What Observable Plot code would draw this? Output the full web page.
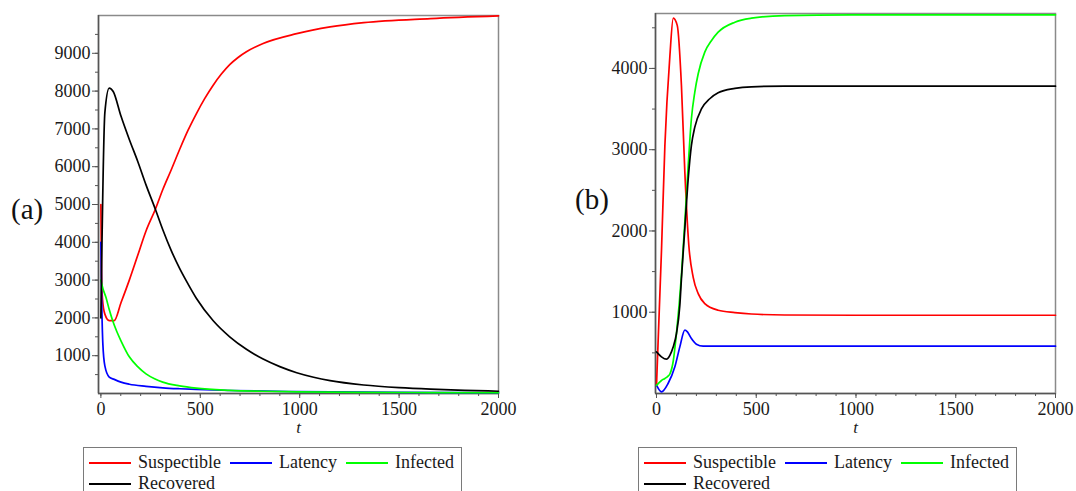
<!DOCTYPE html>
<html>
<head>
<meta charset="utf-8">
<script src="https://cdn.jsdelivr.net/npm/d3@7"></script>
<script src="https://cdn.jsdelivr.net/npm/@observablehq/plot@0.6"></script>
<style>
  body { margin: 0; background: #fff; width: 1076px; height: 491px; overflow: hidden; position: relative;
         font-family: 'Liberation Serif', serif; }
  .panel { position: absolute; top: 0; }
  .plabel { position: absolute; font-family: 'Liberation Serif', serif; font-size: 29px; line-height: 1; color: #111; }
  .legend { position: absolute; top: 447px; height: 60px; width: 379px; border: 1.5px solid #7a7a7a;
            box-sizing: border-box; font-family: 'Liberation Serif', serif; font-size: 18px; color: #1a1a1a; }
  .row { position: absolute; left: 5px; height: 21px; display: flex; align-items: center; white-space: nowrap; }
  .sw { display: inline-block; width: 42px; height: 2px; margin-right: 7px; }
  .lt { margin-right: 9px; }
</style>
</head>
<body>
<div id="pa" class="panel" style="left:0px"></div>
<div id="pb" class="panel" style="left:557px"></div>
<div class="plabel" style="left:11px;top:195px">(a)</div>
<div class="plabel" style="left:575px;top:185px">(b)</div>
<div id="lega" class="legend" style="left:83px"></div>
<div id="legb" class="legend" style="left:638px"></div>
<script>
// ---------- Panel (a) data ----------
const tSuspA = [0, 3, 8, 20, 42, 67, 101, 143, 185, 227, 274, 311, 354, 396, 438, 480, 522, 564, 606, 648, 690, 732, 816, 985, 1153, 1322, 1658, 2000];
const suspA  = [5000, 3200, 2500, 2100, 1930, 1930, 2400, 3000, 3650, 4300, 4875, 5390, 5920, 6455, 6960, 7400, 7800, 8150, 8450, 8700, 8890, 9040, 9260, 9519, 9697, 9812, 9919, 9990];

const tLatA = [0, 4, 10, 20, 42, 67, 101, 143, 227, 311, 396, 480, 648, 985, 1500, 2000];
const latA  = [4000, 2500, 1300, 730, 435, 373, 300, 245, 190, 150, 125, 107, 80, 50, 30, 20];

const tInfA = [0, 10, 25, 42, 59, 80, 101, 143, 185, 227, 270, 311, 396, 480, 648, 816, 985, 1300, 1650, 2000];
const infA  = [3000, 2780, 2550, 2220, 1930, 1640, 1395, 970, 710, 520, 390, 300, 200, 140, 85, 60, 45, 32, 25, 20];

const tRecA = [0, 20, 42, 62, 101, 143, 185, 227, 274, 311, 354, 396, 429, 480, 564, 648, 732, 816, 900, 985, 1070, 1153, 1322, 1500, 1658, 1830, 2000];
const recA  = [2000, 7430, 8080, 7990, 7340, 6720, 6145, 5520, 4875, 4340, 3780, 3310, 2985, 2520, 1930, 1500, 1170, 910, 710, 550, 430, 340, 225, 155, 115, 85, 60];

// ---------- Panel (b) data ----------
const tSuspB = [0, 25, 42, 67, 84, 104, 125, 142, 162, 184, 209, 242, 309, 393, 476, 643, 1000, 2000];
const suspB  = [100, 1760, 3050, 4150, 4620, 4530, 3790, 2725, 1824, 1430, 1229, 1106, 1025, 996, 978, 966, 963, 963];

const tLatB = [0, 25, 58, 92, 117, 142, 155, 175, 200, 234, 300, 2000];
const latB  = [102, 20, 123, 328, 574, 779, 758, 676, 607, 582, 582, 582];

const tInfB = [0, 25, 42, 58, 67, 84, 100, 125, 142, 159, 175, 192, 209, 242, 276, 309, 393, 476, 643, 977, 2000];
const infB  = [100, 160, 185, 215, 240, 400, 738, 1455, 2110, 2807, 3381, 3709, 3934, 4200, 4344, 4446, 4569, 4618, 4651, 4659, 4660];

const tRecB = [0, 25, 50, 67, 84, 100, 117, 125, 142, 159, 175, 192, 226, 267, 309, 393, 476, 643, 2000];
const recB  = [512, 451, 422, 470, 574, 738, 1086, 1414, 2028, 2643, 3053, 3278, 3504, 3627, 3700, 3754, 3774, 3782, 3782];

// ---------- Ticks & labels ----------
const seriesNames = ["Suspectible", "Latency", "Infected", "Recovered"];
const seriesColors = ["#ff0000", "#0000ff", "#00ff00", "#000000"];
const xTicks = [0, 500, 1000, 1500, 2000];
const xMinor = d3.range(0, 2001, 100);
const yTicksA = [1000, 2000, 3000, 4000, 5000, 6000, 7000, 8000, 9000];
const yMinorA = d3.range(500, 10000, 500);
const yTicksB = [1000, 2000, 3000, 4000];
const yMinorB = d3.range(500, 4700, 500);
const xLabel = "t";

const FONT = "'Liberation Serif', serif";
function zip(ts, vs) { return ts.map((t, i) => ({t, v: vs[i]})); }

function panel(series, xDomain, yDomain, yTicks, yMinor, marginTop) {
  return Plot.plot({
    width: 512, height: 440,
    marginLeft: 98, marginRight: 14, marginTop, marginBottom: 47,
    style: "font-family: 'Liberation Serif', serif; font-size: 18px; color: #1a1a1a; background: transparent; overflow: visible;",
    x: {domain: xDomain},
    y: {domain: yDomain},
    marks: [
      Plot.frame({stroke: "#8a8a8a", strokeWidth: 1.5}),
      Plot.axisY({ticks: yMinor, tickSize: 3, tickFormat: () => "", label: null, stroke: "#555"}),
      Plot.axisY({ticks: yTicks, tickSize: 6, tickPadding: 2, label: null, stroke: "#555", fontSize: 18, fontFamily: FONT, tickFormat: d => String(d)}),
      Plot.axisX({ticks: xMinor, tickSize: 3, tickFormat: () => "", label: null, stroke: "#555"}),
      Plot.axisX({ticks: xTicks, tickSize: 5, tickPadding: 4, label: null, stroke: "#555", fontSize: 18, fontFamily: FONT, tickFormat: d => String(d)}),
      Plot.ruleX([xDomain[0]], {stroke: "#555", strokeWidth: 1.5}),
      Plot.ruleY([yDomain[0]], {stroke: "#555", strokeWidth: 1.5}),
      ...series.map((s, i) => Plot.line(s, {x: "t", y: "v", stroke: seriesColors[i], strokeWidth: 1.7, curve: "monotone-x"})),
      Plot.text([xLabel], {frameAnchor: "bottom", dy: 39, text: d => d, fontStyle: "italic", fontSize: 17, fontFamily: FONT, fill: "#1a1a1a"})
    ]
  });
}

document.getElementById("pa").append(panel(
  [zip(tSuspA, suspA), zip(tLatA, latA), zip(tInfA, infA), zip(tRecA, recA)],
  [-12, 2000], [0, 10000], yTicksA, yMinorA, 15));
document.getElementById("pb").append(panel(
  [zip(tSuspB, suspB), zip(tLatB, latB), zip(tInfB, infB), zip(tRecB, recB)],
  [-5, 2000], [0, 4676], yTicksB, yMinorB, 13));

function legend(el) {
  const rows = [[0, 1, 2], [3]];
  rows.forEach((r, ri) => {
    const row = document.createElement("div");
    row.className = "row";
    row.style.top = (ri === 0 ? 4 : 25) + "px";
    r.forEach(i => {
      const sw = document.createElement("span");
      sw.className = "sw"; sw.style.background = seriesColors[i];
      const tx = document.createElement("span");
      tx.className = "lt"; tx.textContent = seriesNames[i];
      row.append(sw, tx);
    });
    el.append(row);
  });
}
legend(document.getElementById("lega"));
legend(document.getElementById("legb"));
</script>
</body>
</html>
